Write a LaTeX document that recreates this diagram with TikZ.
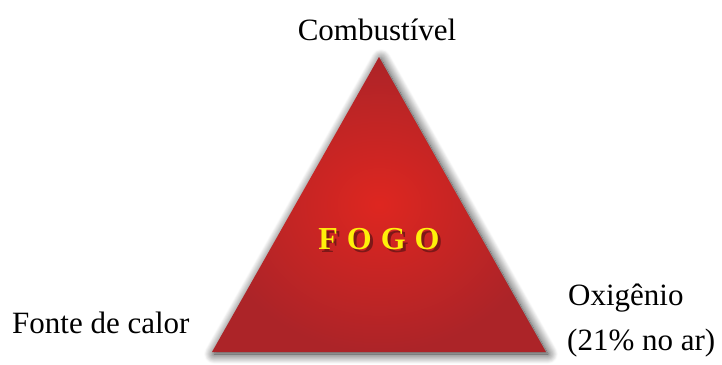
\documentclass[tikz,border=0pt]{standalone}
\usepackage{fontspec}
\setmainfont{Liberation Serif}
\usetikzlibrary{shadows.blur}
\definecolor{fireIn}{RGB}{222,38,32}
\definecolor{fireOut}{RGB}{172,36,40}
\definecolor{fogoYellow}{RGB}{255,240,10}
\definecolor{fogoShade}{RGB}{125,24,24}
\newcommand{\fogoword}{F\hspace{9pt}O\hspace{9pt}G\hspace{9pt}O}
\newcommand{\fogoshadowed}{%
  \rlap{\hspace{3pt}\raisebox{-3pt}{\textcolor{fogoShade}{\fogoword}}}%
  \textcolor{fogoYellow}{\fogoword}}
\tikzset{
  lbl/.style={inner sep=0pt, font=\fontsize{31}{37}\selectfont, text=black},
  tri/.style={shade, inner color=fireIn, outer color=fireOut,
    blur shadow={shadow xshift=2pt, shadow yshift=-2pt, shadow blur radius=10pt, shadow blur steps=16, shadow opacity=85}},
  fogo/.style={inner sep=0pt, font=\fontsize{32}{38}\selectfont\bfseries}
}
\begin{document}
\begin{tikzpicture}[x=1pt,y=-1pt]
\useasboundingbox (0,0) rectangle (722,364);
\path[tri] (379,57) coordinate (apex) -- (546,352) coordinate (br) -- (212,352) coordinate (bl) -- cycle;
\node[fogo, anchor=base] (fogo) at (379,249) {\fogoshadowed};
\node[lbl, anchor=base] (comb) at (377,40) {Combustível};
\node[lbl, anchor=base west] (fonte) at (12,333) {Fonte de calor};
\node[lbl, anchor=base west] (oxi) at (568,305) {Oxigênio};
\node[lbl, anchor=base west] (ar) at (567,350) {(21\% no ar)};
\end{tikzpicture}
\end{document}
